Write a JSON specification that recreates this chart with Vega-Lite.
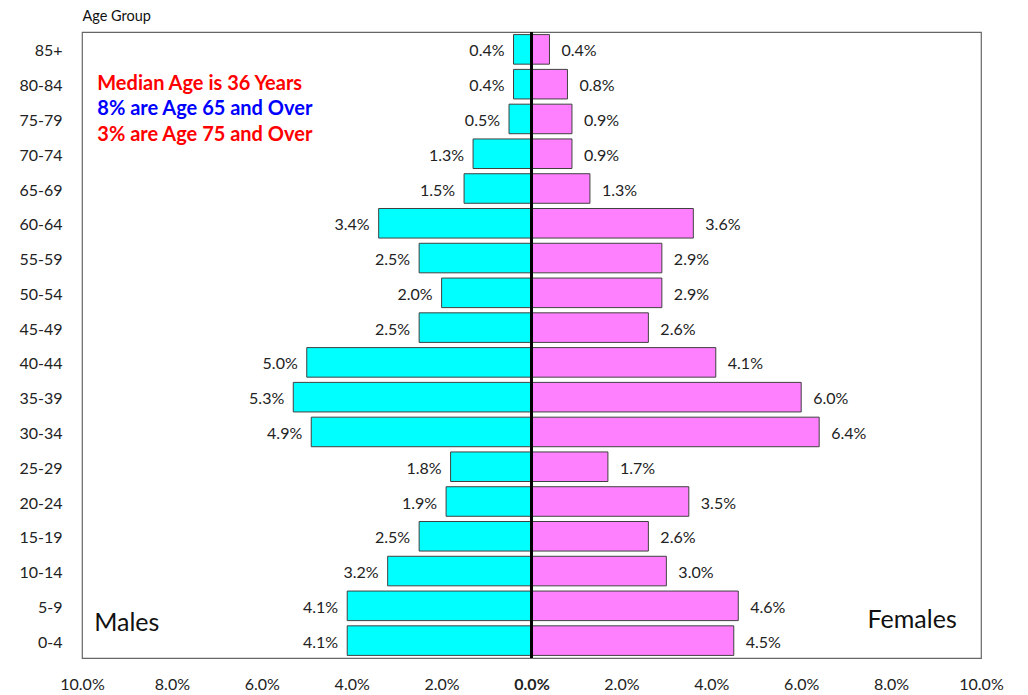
{
  "$schema": "https://vega.github.io/schema/vega-lite/v6.json",
  "width": 899,
  "height": 626,
  "autosize": {"type": "none"},
  "padding": {"left": 82, "top": 32, "right": 47, "bottom": 37},
  "background": "white",
  "config": {"font": "Lato", "view": {"stroke": "#666666", "strokeWidth": 1.2}},
  "resolve": {"scale": {"y": "independent"}},
  "layer": [
    {
      "data": {
        "values": [
          {"age": "85+", "sex": "Male", "pct": 0.4}, {"age": "85+", "sex": "Female", "pct": 0.4},
          {"age": "80-84", "sex": "Male", "pct": 0.4}, {"age": "80-84", "sex": "Female", "pct": 0.8},
          {"age": "75-79", "sex": "Male", "pct": 0.5}, {"age": "75-79", "sex": "Female", "pct": 0.9},
          {"age": "70-74", "sex": "Male", "pct": 1.3}, {"age": "70-74", "sex": "Female", "pct": 0.9},
          {"age": "65-69", "sex": "Male", "pct": 1.5}, {"age": "65-69", "sex": "Female", "pct": 1.3},
          {"age": "60-64", "sex": "Male", "pct": 3.4}, {"age": "60-64", "sex": "Female", "pct": 3.6},
          {"age": "55-59", "sex": "Male", "pct": 2.5}, {"age": "55-59", "sex": "Female", "pct": 2.9},
          {"age": "50-54", "sex": "Male", "pct": 2.0}, {"age": "50-54", "sex": "Female", "pct": 2.9},
          {"age": "45-49", "sex": "Male", "pct": 2.5}, {"age": "45-49", "sex": "Female", "pct": 2.6},
          {"age": "40-44", "sex": "Male", "pct": 5.0}, {"age": "40-44", "sex": "Female", "pct": 4.1},
          {"age": "35-39", "sex": "Male", "pct": 5.3}, {"age": "35-39", "sex": "Female", "pct": 6.0},
          {"age": "30-34", "sex": "Male", "pct": 4.9}, {"age": "30-34", "sex": "Female", "pct": 6.4},
          {"age": "25-29", "sex": "Male", "pct": 1.8}, {"age": "25-29", "sex": "Female", "pct": 1.7},
          {"age": "20-24", "sex": "Male", "pct": 1.9}, {"age": "20-24", "sex": "Female", "pct": 3.5},
          {"age": "15-19", "sex": "Male", "pct": 2.5}, {"age": "15-19", "sex": "Female", "pct": 2.6},
          {"age": "10-14", "sex": "Male", "pct": 3.2}, {"age": "10-14", "sex": "Female", "pct": 3.0},
          {"age": "5-9", "sex": "Male", "pct": 4.1}, {"age": "5-9", "sex": "Female", "pct": 4.6},
          {"age": "0-4", "sex": "Male", "pct": 4.1}, {"age": "0-4", "sex": "Female", "pct": 4.5}
        ]
      },
      "transform": [
        {"calculate": "datum.sex == 'Male' ? -datum.pct : datum.pct", "as": "x"},
        {"calculate": "format(datum.pct, '.1f') + '%'", "as": "label"}
      ],
      "encoding": {
        "y": {
          "field": "age",
          "type": "nominal",
          "scale": {
            "domain": ["85+", "80-84", "75-79", "70-74", "65-69", "60-64", "55-59", "50-54", "45-49", "40-44", "35-39", "30-34", "25-29", "20-24", "15-19", "10-14", "5-9", "0-4"],
            "paddingInner": 0.15,
            "paddingOuter": 0.075
          },
          "axis": {
            "title": "Age Group",
            "titleAngle": 0,
            "titleAlign": "left",
            "titleBaseline": "middle",
            "titleX": 0,
            "titleY": -16,
            "titleFontSize": 14.5,
            "titleFontWeight": "normal",
            "titleColor": "#111",
            "labelFontSize": 16,
            "labelPadding": 20,
            "labelColor": "#222",
            "labelBaseline": "middle",
            "labelOffset": 2,
            "ticks": false,
            "domain": false,
            "grid": false
          }
        },
        "x": {
          "field": "x",
          "type": "quantitative",
          "scale": {"domain": [-10, 10], "nice": false, "zero": false},
          "axis": {
            "values": [-10, -8, -6, -4, -2, 0, 2, 4, 6, 8, 10],
            "labelExpr": "format(abs(datum.value), '.1f') + '%'",
            "title": null,
            "grid": false,
            "ticks": false,
            "domain": false,
            "labelFlush": false,
            "labelOverlap": false,
            "labelFontSize": 16,
            "labelPadding": 18,
            "labelColor": "#222",
            "labelFontWeight": {"condition": {"test": "datum.value == 0", "value": "bold"}, "value": "normal"}
          }
        }
      },
      "layer": [
        {
          "mark": {"type": "bar", "stroke": "#404040", "strokeWidth": 1},
          "encoding": {
            "color": {
              "field": "sex",
              "type": "nominal",
              "scale": {"domain": ["Male", "Female"], "range": ["#00FFFF", "#FF80FF"]},
              "legend": null
            }
          }
        },
        {
          "transform": [{"filter": "datum.sex == 'Male'"}],
          "mark": {"type": "text", "align": "right", "baseline": "middle", "dx": -9, "dy": 2, "fontSize": 16, "color": "#222"},
          "encoding": {"text": {"field": "label"}}
        },
        {
          "transform": [{"filter": "datum.sex == 'Female'"}],
          "mark": {"type": "text", "align": "left", "baseline": "middle", "dx": 12, "dy": 2, "fontSize": 16, "color": "#222"},
          "encoding": {"text": {"field": "label"}}
        },
        {
          "mark": {"type": "rule", "color": "black", "strokeWidth": 1.2},
          "encoding": {"x": {"datum": 0}, "y": null}
        }
      ]
    },
    {
      "data": {"values": [{}]},
      "layer": [
        {
          "mark": {"type": "text", "text": "Median Age is 36 Years", "color": "#FF0000", "fontWeight": "bold", "fontSize": 20, "align": "left", "baseline": "middle"},
          "encoding": {"x": {"datum": -9.66}, "y": {"datum": 16.5, "type": "quantitative", "scale": {"domain": [0, 18], "nice": false, "zero": false}, "axis": null}}
        },
        {
          "mark": {"type": "text", "text": "8% are Age 65 and Over", "color": "#0000FF", "fontWeight": "bold", "fontSize": 20, "align": "left", "baseline": "middle"},
          "encoding": {"x": {"datum": -9.66}, "y": {"datum": 15.79, "type": "quantitative", "scale": {"domain": [0, 18], "nice": false, "zero": false}, "axis": null}}
        },
        {
          "mark": {"type": "text", "text": "3% are Age 75 and Over", "color": "#FF0000", "fontWeight": "bold", "fontSize": 20, "align": "left", "baseline": "middle"},
          "encoding": {"x": {"datum": -9.66}, "y": {"datum": 15.04, "type": "quantitative", "scale": {"domain": [0, 18], "nice": false, "zero": false}, "axis": null}}
        },
        {
          "mark": {"type": "text", "text": "Males", "color": "#111", "fontSize": 25, "align": "left", "baseline": "middle"},
          "encoding": {"x": {"datum": -9.73}, "y": {"datum": 1.01, "type": "quantitative", "scale": {"domain": [0, 18], "nice": false, "zero": false}, "axis": null}}
        },
        {
          "mark": {"type": "text", "text": "Females", "color": "#111", "fontSize": 25, "align": "right", "baseline": "middle"},
          "encoding": {"x": {"datum": 9.46}, "y": {"datum": 1.09, "type": "quantitative", "scale": {"domain": [0, 18], "nice": false, "zero": false}, "axis": null}}
        }
      ]
    }
  ]
}
